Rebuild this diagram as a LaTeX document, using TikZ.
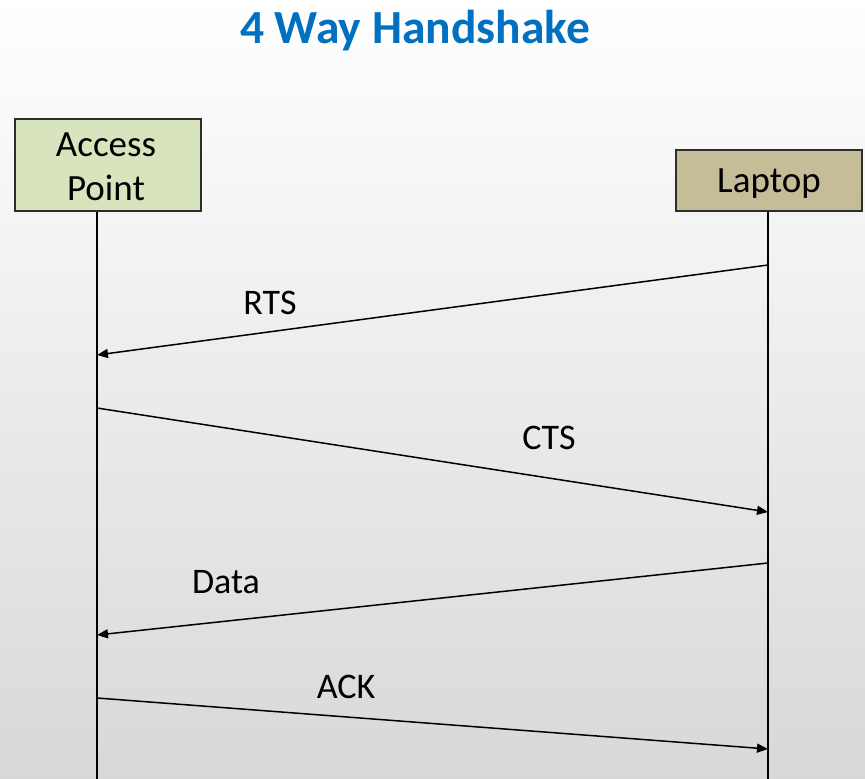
\documentclass[tikz,border=0pt]{standalone}
\usepackage{fontspec}
\setmainfont{Carlito}
\usetikzlibrary{arrows.meta}
\definecolor{titleblue}{RGB}{0,112,192}
\definecolor{apfill}{RGB}{215,228,189}
\definecolor{lapfill}{RGB}{196,189,151}
\definecolor{bggray}{RGB}{216,216,216}
\definecolor{edgegray}{RGB}{45,45,45}
\begin{document}
\begin{tikzpicture}[x=1pt,y=-1pt,
  actor/.style={draw=edgegray, line width=1.3pt, inner sep=0pt, minimum width=186pt,
    align=center, font=\fontsize{37}{44}\selectfont},
  lifeline/.style={line width=1.4pt},
  msg/.style={line width=1.5pt, -{Triangle[length=11pt,width=9pt]}},
  lbl/.style={font=\fontsize{36}{40}\selectfont, inner sep=0pt}]
\shade[top color=white, bottom color=bggray] (0,0) rectangle (865,779);
\useasboundingbox (0,0) rectangle (865,779);
\node[font=\bfseries\fontsize{47.5}{50}\selectfont, text=titleblue] (title) at (415,31) {4 Way Handshake};
\node[actor, fill=apfill, minimum height=92pt] (ap) at (108,165) {};
\node[font=\fontsize{37}{44}\selectfont, align=center, inner sep=0pt] (aptext) at (106,167) {Access\\ Point};
\node[actor, fill=lapfill, minimum height=61pt] (lap) at (769,180.5) {};
\node[font=\fontsize{37}{44}\selectfont, inner sep=0pt] (laptext) at (769,184) {Laptop};
\coordinate (apbot) at (97,779);
\coordinate (lapbot) at (768,779);
\draw[lifeline] (ap.south -| apbot) -- (apbot);
\draw[lifeline] (lap.south -| lapbot) -- (lapbot);
\coordinate (l1) at (768,265); \coordinate (a1) at (97,355);
\coordinate (a2) at (97,408); \coordinate (l2) at (768,512);
\coordinate (l3) at (768,563); \coordinate (a3) at (97,635);
\coordinate (a4) at (97,698); \coordinate (l4) at (768,749);
\draw[msg] (l1) -- (a1);
\draw[msg] (a2) -- (l2);
\draw[msg] (l3) -- (a3);
\draw[msg] (a4) -- (l4);
\node[lbl] (rts) at (270,303) {RTS};
\node[lbl] (cts) at (549,438) {CTS};
\node[lbl] (data) at (226,582) {Data};
\node[lbl] (ack) at (346,687) {ACK};
\end{tikzpicture}
\end{document}
